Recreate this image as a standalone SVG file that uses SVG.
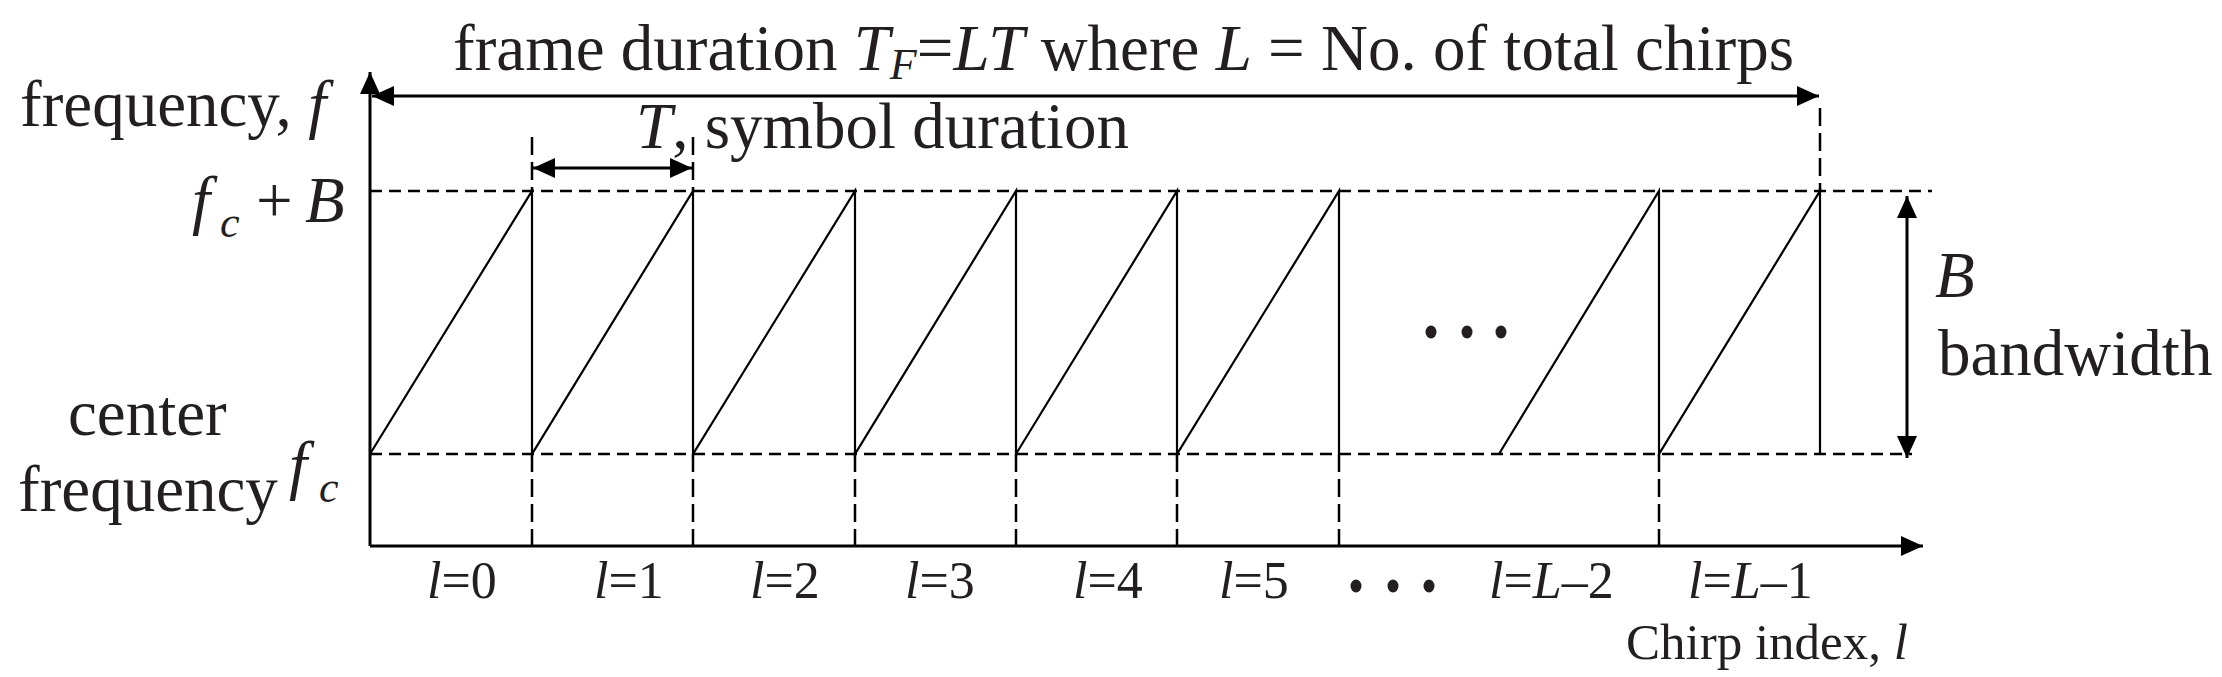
<svg xmlns="http://www.w3.org/2000/svg" width="2222" height="677" viewBox="0 0 2222 677">
<style>
text{font-family:"Liberation Serif","Times New Roman",serif;fill:#231f20;font-size:65px}
.i{font-style:italic}
.sm{font-size:52px}
.ax{font-size:51px}
.sub{font-size:44px;font-style:italic}
.solid{stroke:#000;stroke-width:3;fill:none}
.thin{stroke:#000;stroke-width:2.2;fill:none}
.dash{stroke:#000;stroke-width:2.5;fill:none;stroke-dasharray:12 7}
.vdash{stroke:#000;stroke-width:2.5;fill:none;stroke-dasharray:18 7}
.dot{fill:#231f20}
</style>
<defs>
<marker id="ah" markerUnits="userSpaceOnUse" markerWidth="24" markerHeight="22" refX="22" refY="10" orient="auto-start-reverse">
<path d="M0,0 L22,10 L0,20 z" fill="#000"/>
</marker>
</defs>
<rect width="2222" height="677" fill="#fff"/>

<g id="grid">
<line class="dash" x1="370" y1="191" x2="1932" y2="191"/>
<line class="dash" x1="370" y1="454" x2="1912" y2="454"/>
<line class="vdash" x1="532" y1="137" x2="532" y2="191"/>
<line class="vdash" x1="693" y1="137" x2="693" y2="191"/>
<line class="vdash" x1="1820" y1="108" x2="1820" y2="191"/>
<line class="vdash" x1="532" y1="454" x2="532" y2="546"/>
<line class="vdash" x1="693" y1="454" x2="693" y2="546"/>
<line class="vdash" x1="855" y1="454" x2="855" y2="546"/>
<line class="vdash" x1="1016" y1="454" x2="1016" y2="546"/>
<line class="vdash" x1="1177" y1="454" x2="1177" y2="546"/>
<line class="vdash" x1="1339" y1="454" x2="1339" y2="546"/>
<line class="vdash" x1="1659" y1="454" x2="1659" y2="546"/>
</g>

<g id="chirps">
<path class="thin" d="M370,454 L532,191 L532,454 L693,191 L693,454 L855,191 L855,454 L1016,191 L1016,454 L1177,191 L1177,454 L1339,191 L1339,454"/>
<path class="thin" d="M1499,454 L1659,191 L1659,454 L1820,191 L1820,454"/>
</g>

<g id="connectors">
<line class="solid" x1="370" y1="546" x2="370" y2="72" marker-end="url(#ah)"/>
<line class="solid" x1="370" y1="546" x2="1923" y2="546" marker-end="url(#ah)"/>
<line class="solid" x1="372" y1="96" x2="1819" y2="96" marker-start="url(#ah)" marker-end="url(#ah)"/>
<line class="solid" x1="533" y1="168" x2="692" y2="168" marker-start="url(#ah)" marker-end="url(#ah)"/>
<line class="solid" x1="1907" y1="196" x2="1907" y2="458" marker-start="url(#ah)" marker-end="url(#ah)"/>
</g>

<g id="ellipsis-mid">
<ellipse class="dot" cx="1431" cy="332" rx="5.5" ry="6.5"/>
<ellipse class="dot" cx="1467" cy="332" rx="5.5" ry="6.5"/>
<ellipse class="dot" cx="1501" cy="332" rx="5.5" ry="6.5"/>
</g>
<g id="ellipsis-axis">
<ellipse class="dot" cx="1356" cy="586" rx="5.5" ry="6.5"/>
<ellipse class="dot" cx="1393" cy="586" rx="5.5" ry="6.5"/>
<ellipse class="dot" cx="1429" cy="586" rx="5.5" ry="6.5"/>
</g>

<g id="title">
<text x="453" y="70">frame duration <tspan class="i">T</tspan><tspan class="sub" dy="9">F</tspan><tspan dy="-9">=</tspan><tspan class="i">LT</tspan> where <tspan class="i">L</tspan> = No. of total chirps</text>
</g>
<g id="symbol-label">
<text x="636" y="148"><tspan class="i">T</tspan>, symbol duration</text>
</g>
<g id="y-label">
<text x="20" y="126">frequency, <tspan class="i">f</tspan></text>
</g>
<g id="fcB-label">
<text x="192" y="222"><tspan class="i">f</tspan><tspan class="sub" x="220" dy="15">c</tspan><tspan x="256" dy="-15">+</tspan><tspan class="i" x="305">B</tspan></text>
</g>
<g id="fc-label">
<text x="68" y="435">center</text>
<text x="18" y="511">frequency</text>
<text x="289" y="487"><tspan class="i">f</tspan><tspan class="sub" x="319" dy="15">c</tspan></text>
</g>
<g id="bw-label">
<text x="1935" y="297" class="i">B</text>
<text x="1938" y="375">bandwidth</text>
</g>
<g id="x-label">
<text class="ax" x="1626" y="659">Chirp index, <tspan class="i">l</tspan></text>
</g>
<g id="index-labels">
<text class="sm" x="427" y="598"><tspan class="i">l</tspan>=0</text>
<text class="sm" x="594" y="598"><tspan class="i">l</tspan>=1</text>
<text class="sm" x="750" y="598"><tspan class="i">l</tspan>=2</text>
<text class="sm" x="905" y="598"><tspan class="i">l</tspan>=3</text>
<text class="sm" x="1073" y="598"><tspan class="i">l</tspan>=4</text>
<text class="sm" x="1219" y="598"><tspan class="i">l</tspan>=5</text>
<text class="sm" x="1489" y="598"><tspan class="i">l</tspan>=<tspan class="i">L</tspan>–2</text>
<text class="sm" x="1688" y="598"><tspan class="i">l</tspan>=<tspan class="i">L</tspan>–1</text>
</g>
</svg>
